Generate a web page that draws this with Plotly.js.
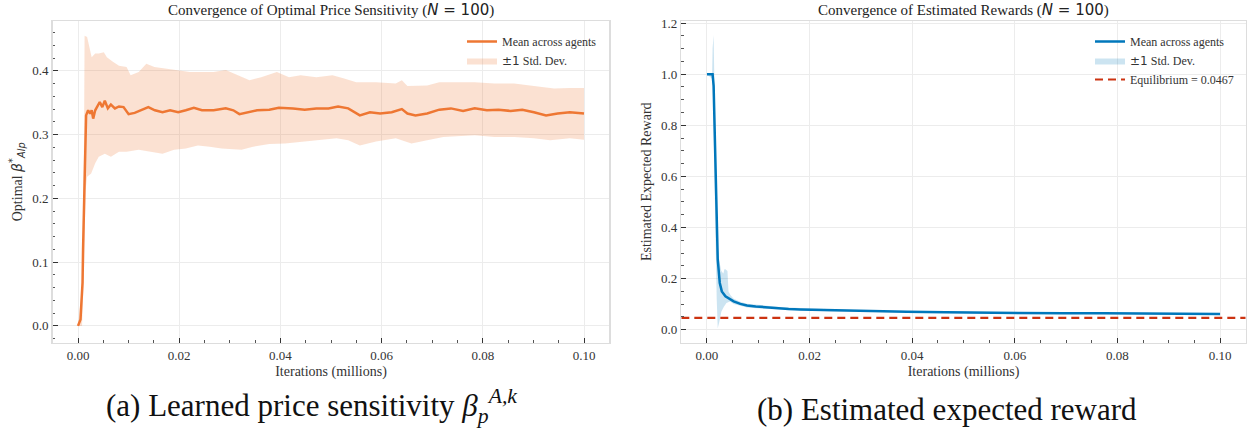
<!DOCTYPE html>
<html>
<head>
<meta charset="utf-8">
<script src="https://cdn.plot.ly/plotly-3.0.1.min.js"></script>
<style>html,body{margin:0;padding:0;background:#fff;}#chart{width:1248px;height:434px;}</style>
</head>
<body>
<div id="chart"></div>
<script>
// ---------- Panel (a): optimal price sensitivity ----------
const beta_x = [0, 0.0005, 0.0006, 0.0009, 0.001, 0.0012, 0.0013, 0.0015, 0.0016, 0.002, 0.0024, 0.0027, 0.003, 0.0034, 0.0039, 0.0043, 0.0048, 0.0053, 0.0059, 0.0065, 0.0073, 0.0081, 0.009, 0.01, 0.0112, 0.0124, 0.0139, 0.0152, 0.0167, 0.0182, 0.0198, 0.0213, 0.0229, 0.0245, 0.0268, 0.0292, 0.0307, 0.0319, 0.0335, 0.0354, 0.0378, 0.0397, 0.0425, 0.0448, 0.0471, 0.0495, 0.0514, 0.0534, 0.0557, 0.0577, 0.0597, 0.062, 0.064, 0.0651, 0.0667, 0.069, 0.0714, 0.0737, 0.0761, 0.0784, 0.0808, 0.0831, 0.0855, 0.0878, 0.0901, 0.0925, 0.0948, 0.0972, 0.1];
const beta_mean = [0, 0.01, 0.026, 0.068, 0.12, 0.198, 0.249, 0.291, 0.330, 0.338, 0.333, 0.338, 0.325, 0.338, 0.346, 0.351, 0.343, 0.353, 0.341, 0.347, 0.341, 0.344, 0.343, 0.332, 0.334, 0.338, 0.343, 0.338, 0.335, 0.338, 0.335, 0.338, 0.342, 0.338, 0.338, 0.341, 0.338, 0.332, 0.335, 0.338, 0.339, 0.342, 0.341, 0.339, 0.341, 0.341, 0.344, 0.341, 0.330, 0.335, 0.333, 0.335, 0.340, 0.333, 0.330, 0.333, 0.339, 0.341, 0.337, 0.341, 0.338, 0.339, 0.337, 0.339, 0.335, 0.330, 0.333, 0.335, 0.333];
const beta_up_x = [0, 0.0008, 0.0012, 0.0013, 0.0018, 0.0022, 0.0027, 0.0034, 0.0041, 0.0051, 0.0057, 0.0069, 0.0081, 0.0096, 0.0104, 0.012, 0.0135, 0.0151, 0.0174, 0.0198, 0.0221, 0.0245, 0.0268, 0.0292, 0.0315, 0.0339, 0.0362, 0.0393, 0.0417, 0.044, 0.0471, 0.0503, 0.0526, 0.055, 0.0589, 0.0628, 0.064, 0.0651, 0.069, 0.0714, 0.0753, 0.0784, 0.0823, 0.0862, 0.0901, 0.0941, 0.0972, 0.1];
const beta_up = [0, 0.06, 0.30, 0.455, 0.453, 0.437, 0.421, 0.427, 0.427, 0.429, 0.421, 0.414, 0.408, 0.406, 0.393, 0.398, 0.411, 0.406, 0.403, 0.401, 0.398, 0.398, 0.398, 0.401, 0.393, 0.385, 0.390, 0.398, 0.390, 0.393, 0.390, 0.393, 0.388, 0.382, 0.382, 0.380, 0.385, 0.376, 0.377, 0.382, 0.382, 0.382, 0.380, 0.380, 0.376, 0.372, 0.373, 0.373];
const beta_lo_x = [0, 0.0008, 0.0012, 0.0015, 0.0018, 0.0026, 0.0034, 0.0041, 0.0053, 0.0065, 0.0081, 0.0096, 0.012, 0.0143, 0.0167, 0.019, 0.0213, 0.0237, 0.026, 0.0284, 0.0323, 0.0346, 0.0378, 0.0409, 0.044, 0.0471, 0.0511, 0.0534, 0.0557, 0.0589, 0.0628, 0.0659, 0.069, 0.0722, 0.0753, 0.0784, 0.0823, 0.0862, 0.0901, 0.0933, 0.0972, 0.1];
const beta_lo = [0, 0.0, 0.09, 0.213, 0.234, 0.239, 0.255, 0.265, 0.270, 0.265, 0.273, 0.273, 0.276, 0.273, 0.270, 0.276, 0.278, 0.283, 0.281, 0.278, 0.276, 0.281, 0.285, 0.286, 0.289, 0.291, 0.294, 0.291, 0.283, 0.289, 0.294, 0.286, 0.291, 0.296, 0.297, 0.299, 0.296, 0.296, 0.294, 0.291, 0.294, 0.292];

// ---------- Panel (b): estimated rewards ----------
const rew_x = [0, 0.0011, 0.0013, 0.0016, 0.0018, 0.0021, 0.0025, 0.0029, 0.0036, 0.0042, 0.0052, 0.0065, 0.0078, 0.0095, 0.011, 0.0125, 0.0143, 0.0159, 0.0182, 0.0235, 0.0312, 0.0389, 0.0465, 0.0542, 0.0619, 0.0696, 0.0772, 0.0849, 0.0926, 0.1];
const rew_mean = [1.0, 1.0, 0.954, 0.693, 0.431, 0.275, 0.183, 0.150, 0.131, 0.124, 0.111, 0.101, 0.095, 0.091, 0.088, 0.085, 0.083, 0.081, 0.079, 0.076, 0.072, 0.070, 0.068, 0.066, 0.065, 0.064, 0.064, 0.063, 0.062, 0.062];
const rew_up_x = [0, 0.0010, 0.0011, 0.0013, 0.0015, 0.0017, 0.0019, 0.0021, 0.0024, 0.0028, 0.0032, 0.0034, 0.0036, 0.0040, 0.0042, 0.0046, 0.0052, 0.0065, 0.0078, 0.011, 0.0143, 0.0182, 0.0235, 0.0312, 0.0389, 0.0465, 0.0542, 0.0619, 0.0772, 0.1];
const rew_up = [1.0, 1.0, 1.10, 1.153, 0.90, 0.65, 0.45, 0.33, 0.27, 0.23, 0.22, 0.237, 0.237, 0.23, 0.15, 0.135, 0.121, 0.109, 0.102, 0.095, 0.089, 0.085, 0.080, 0.075, 0.073, 0.071, 0.069, 0.068, 0.066, 0.064];
const rew_lo_x = [0, 0.0011, 0.0013, 0.0015, 0.0017, 0.0019, 0.0021, 0.0024, 0.0028, 0.0033, 0.0038, 0.0045, 0.0052, 0.0065, 0.0078, 0.011, 0.0143, 0.0182, 0.0235, 0.0312, 0.0389, 0.0465, 0.0542, 0.0619, 0.0772, 0.1];
const rew_lo = [1.0, 0.98, 0.80, 0.55, 0.30, 0.12, 0.006, 0.03, 0.07, 0.09, 0.105, 0.110, 0.101, 0.093, 0.087, 0.082, 0.078, 0.076, 0.072, 0.069, 0.067, 0.065, 0.063, 0.062, 0.061, 0.059];
const equilibrium = 0.0467;

// ---------- Text ----------
const titleA = 'Convergence of Optimal Price Sensitivity (<span style="font-family:DejaVu Sans"><i>N</i> = 100</span>)';
const titleB = 'Convergence of Estimated Rewards (<span style="font-family:DejaVu Sans"><i>N</i> = 100</span>)';
const yTitleA = 'Optimal <span style="font-family:DejaVu Sans"><i>β</i><sup>*</sup><sub><i>AIp</i></sub></span>';
const yTitleB = 'Estimated Expected Reward';
const xTitle = 'Iterations (millions)';
const captionA = '(a) Learned price sensitivity <i>β</i><sub><i>p</i></sub><sup><i>A,k</i></sup>';
const captionB = '(b) Estimated expected reward';
const legMean = 'Mean across agents';
const legStd = '<span style="font-family:DejaVu Sans">±1</span> Std. Dev.';
const legEq = 'Equilibrium = ' + equilibrium;

const ORANGE = '#EE7733', BLUE = '#0077BB', RED = '#CC3311';
const SERIF = 'Liberation Serif';
const xRange = [-0.005, 0.105];

function band(ux, uy, lx, ly) {
  return {
    x: ux.concat(lx.slice().reverse()),
    y: uy.concat(ly.slice().reverse())
  };
}
const bA = band(beta_up_x, beta_up, beta_lo_x, beta_lo);
const bB = band(rew_up_x, rew_up, rew_lo_x, rew_lo);

const traces = [
  {x: bA.x, y: bA.y, type: 'scatter', mode: 'lines', fill: 'toself',
   fillcolor: 'rgba(238,119,51,0.22)', line: {width: 0, color: 'rgba(238,119,51,0)'},
   name: legStd, legendrank: 2, xaxis: 'x', yaxis: 'y', legend: 'legend', hoverinfo: 'skip'},
  {x: beta_x, y: beta_mean, type: 'scatter', mode: 'lines',
   line: {color: ORANGE, width: 2.5}, name: legMean, legendrank: 1,
   xaxis: 'x', yaxis: 'y', legend: 'legend'},
  {x: bB.x, y: bB.y, type: 'scatter', mode: 'lines', fill: 'toself',
   fillcolor: 'rgba(0,119,187,0.2)', line: {width: 0, color: 'rgba(0,119,187,0)'},
   name: legStd, legendrank: 2, xaxis: 'x2', yaxis: 'y2', legend: 'legend2', hoverinfo: 'skip'},
  {x: rew_x, y: rew_mean, type: 'scatter', mode: 'lines',
   line: {color: BLUE, width: 2.5}, name: legMean, legendrank: 1,
   xaxis: 'x2', yaxis: 'y2', legend: 'legend2'},
  {x: xRange, y: [equilibrium, equilibrium], type: 'scatter', mode: 'lines',
   line: {color: RED, width: 2.2, dash: '8px,5px'}, name: legEq, legendrank: 3,
   xaxis: 'x2', yaxis: 'y2', legend: 'legend2'}
];

function xAxis(domain, anchor) {
  return {
    domain: domain, anchor: anchor, range: xRange, tick0: 0, dtick: 0.02, tickformat: '.2f',
    ticks: 'inside', ticklen: 5, tickwidth: 1, tickcolor: '#333',
    minor: {dtick: 0.005, tick0: 0, ticks: 'inside', ticklen: 2.5, tickwidth: 1, tickcolor: '#555', showgrid: false},
    showgrid: true, gridcolor: '#ececec', gridwidth: 1,
    showline: true, linecolor: '#dddddd', linewidth: 1.5, mirror: true, zeroline: false,
    tickfont: {family: SERIF, size: 13, color: '#333'},
    title: {text: xTitle, font: {family: SERIF, size: 14, color: '#333'}, standoff: 4}
  };
}
function yAxis(domain, anchor, range, dtick, minor, fmt, title) {
  return {
    domain: domain, anchor: anchor, range: range, tick0: 0, dtick: dtick, tickformat: fmt,
    ticks: 'inside', ticklen: 5, tickwidth: 1, tickcolor: '#333',
    minor: {dtick: minor, tick0: 0, ticks: 'inside', ticklen: 2.5, tickwidth: 1, tickcolor: '#555', showgrid: false},
    showgrid: true, gridcolor: '#ececec', gridwidth: 1,
    showline: true, linecolor: '#dddddd', linewidth: 1.5, mirror: true, zeroline: false,
    tickfont: {family: SERIF, size: 13, color: '#333'},
    title: {text: title, font: {family: SERIF, size: 14, color: '#333'}, standoff: 6}
  };
}

const yDom = [1 - 342.5/434, 1 - 21/434];
const layout = {
  width: 1248, height: 434,
  margin: {l: 0, r: 0, t: 0, b: 0},
  paper_bgcolor: '#fff', plot_bgcolor: '#fff',
  font: {family: SERIF, color: '#333'},
  xaxis: xAxis([52.7/1248, 609.3/1248], 'y'),
  yaxis: yAxis(yDom, 'x', [-0.026, 0.478], 0.1, 0.02, '.1f', yTitleA),
  xaxis2: xAxis([681.3/1248, 1245.7/1248], 'y2'),
  yaxis2: yAxis(yDom, 'x2', [-0.05, 1.208], 0.2, 0.05, '.1f', yTitleB),
  showlegend: true,
  legend: {x: 462/1248, y: 1 - 27/434, xanchor: 'left', yanchor: 'top',
           bgcolor: 'rgba(0,0,0,0)', font: {family: SERIF, size: 12, color: '#333'},
           tracegroupgap: 0, itemwidth: 30},
  legend2: {x: 1090/1248, y: 1 - 27/434, xanchor: 'left', yanchor: 'top',
            bgcolor: 'rgba(0,0,0,0)', font: {family: SERIF, size: 12, color: '#333'},
            tracegroupgap: 0, itemwidth: 30},
  annotations: [
    {text: titleA, x: 331/1248, y: 1 - 10/434, xref: 'paper', yref: 'paper', showarrow: false,
     xanchor: 'center', yanchor: 'middle', font: {family: SERIF, size: 15, color: '#222'}},
    {text: titleB, x: 963.5/1248, y: 1 - 10/434, xref: 'paper', yref: 'paper', showarrow: false,
     xanchor: 'center', yanchor: 'middle', font: {family: SERIF, size: 15, color: '#222'}},
    {text: captionA, x: 311/1248, y: 1 - 406/434, xref: 'paper', yref: 'paper', showarrow: false,
     xanchor: 'center', yanchor: 'middle', font: {family: SERIF, size: 31, color: '#111'}},
    {text: captionB, x: 947/1248, y: 1 - 409/434, xref: 'paper', yref: 'paper', showarrow: false,
     xanchor: 'center', yanchor: 'middle', font: {family: SERIF, size: 31, color: '#111'}}
  ]
};

Plotly.newPlot('chart', traces, layout, {displayModeBar: false, staticPlot: true});
</script>
</body>
</html>
